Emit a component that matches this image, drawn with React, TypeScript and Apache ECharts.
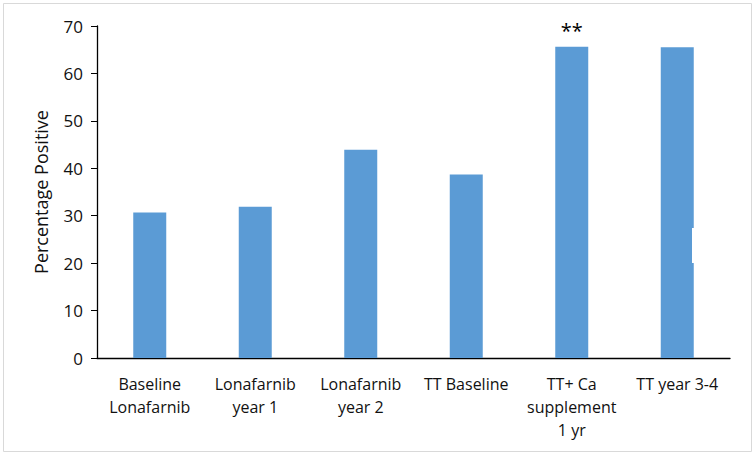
import React, { useEffect, useRef } from "react";
import * as echarts from "echarts";

const categories = [
  "Baseline\nLonafarnib",
  "Lonafarnib\nyear 1",
  "Lonafarnib\nyear 2",
  "TT Baseline",
  "TT+ Ca\nsupplement\n1 yr",
  "TT year 3-4",
];
const values = [30.7, 31.9, 43.9, 38.7, 65.6, 65.5];
const significance = ["", "", "", "", "**", ""];
const yTicks = { min: 0, max: 70, interval: 10 };

export default function App() {
  const ref = useRef<HTMLDivElement>(null);
  useEffect(() => {
    if (!ref.current) return;
    const chart = echarts.init(ref.current, null, { renderer: "svg" });
    const font = "'Open Sans', 'Noto Sans', sans-serif";
    chart.setOption({
      animation: false,
      textStyle: { fontFamily: font },
      grid: { left: 97, top: 26, right: 26, bottom: 97 },
      xAxis: {
        type: "category",
        data: categories,
        axisLine: { lineStyle: { color: "#000", width: 1.3 } },
        axisTick: { show: false },
        axisLabel: {
          color: "#111",
          fontSize: 16,
          lineHeight: 23,
          margin: 14,
          fontFamily: font,
          interval: 0,
        },
      },
      yAxis: {
        type: "value",
        min: yTicks.min,
        max: yTicks.max,
        interval: yTicks.interval,
        name: "Percentage Positive",
        nameLocation: "middle",
        nameGap: 47,
        nameTextStyle: { color: "#111", fontSize: 18, fontFamily: font },
        axisLine: { show: true, lineStyle: { color: "#000", width: 1.3 } },
        axisTick: { show: true, length: 6, lineStyle: { color: "#000" } },
        splitLine: { show: false },
        axisLabel: { color: "#111", fontSize: 17, margin: 14, fontFamily: font },
      },
      series: [
        {
          type: "bar",
          data: values.map((v, i) => ({
            value: v,
            label: {
              show: significance[i] !== "",
              formatter: significance[i],
              position: "top",
              distance: 6,
              color: "#000",
              fontSize: 20,
              fontFamily: font,
            },
          })),
          barWidth: 33,
          itemStyle: { color: "#5B9BD5" },
        },
      ],
      graphic: [
        {
          type: "rect",
          shape: { x: 3.5, y: 3.5, width: 748, height: 448 },
          style: { fill: "none", stroke: "#d9d9d9", lineWidth: 1 },
          silent: true,
        },
        {
          type: "rect",
          shape: { x: 692, y: 228, width: 5, height: 35 },
          style: { fill: "#fff" },
          silent: true,
          z: 100,
        },
      ],
    });
    return () => chart.dispose();
  }, []);
  return (
    <div
      ref={ref}
      style={{ position: "fixed", left: 0, top: 0, width: 756, height: 455, background: "#fff" }}
    />
  );
}
